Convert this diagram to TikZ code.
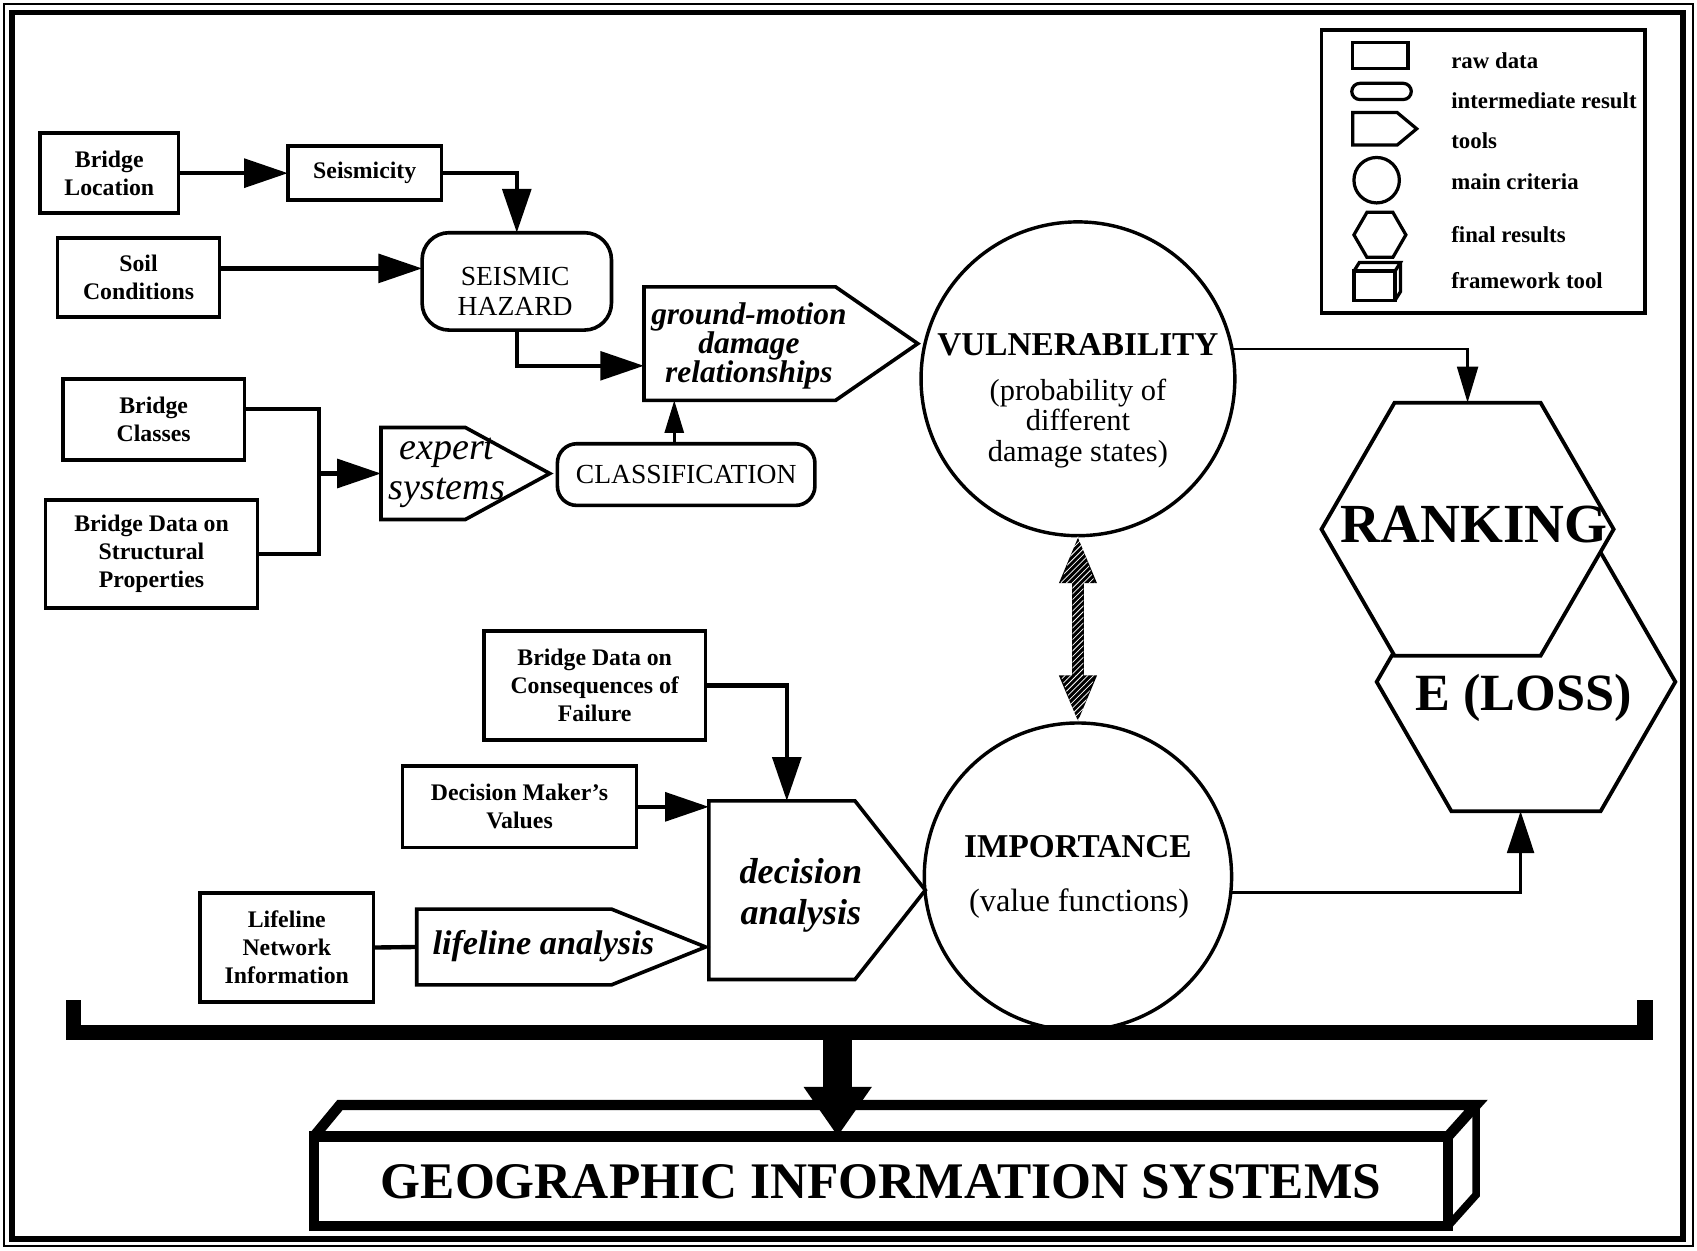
\documentclass[tikz,border=0pt]{standalone}
\usepackage{fontspec}
\setmainfont{Liberation Serif}
\usetikzlibrary{arrows.meta,shapes.geometric,calc,patterns}
\newcommand\fs[2]{\fontsize{#1}{#2}\selectfont}
\newcommand\toolshape[3]{\draw[line width=#3] (#1.north west) -- ([xshift=-#2]#1.north east) -- (#1.east) -- ([xshift=-#2]#1.south east) -- (#1.south west) -- cycle;}
\begin{document}
\begin{tikzpicture}[x=0.02cm,y=-0.02cm,line join=miter,
  every node/.style={inner sep=0pt,outer sep=0pt},
  raw/.style={draw,line width=1.9pt,align=center,font=\fs{12.5}{14.7}\bfseries},
  inter/.style={draw,line width=1.9pt,rounded corners=#1,align=center,font=\fs{14.5}{16}},
  tb/.style={inner sep=0pt,outer sep=0pt},
  crit/.style={draw,circle,line width=1.8pt},
  hexa/.style={draw,regular polygon,regular polygon sides=6,line width=2pt},
  std/.style={line width=2.3pt,-{Triangle[length=23pt,width=15pt]}},
  thinarr/.style={line width=1.3pt,-{Triangle[length=17pt,width=10pt]}},
  plain/.style={line width=2.3pt},
  leglab/.style={anchor=west,font=\fs{12}{14}\bfseries}]
\useasboundingbox (0,0) rectangle (1568,1155);
% frame
\draw[line width=1.2pt] (4,4) rectangle (1564,1151);
\draw[line width=3pt] (11,11.5) rectangle (1555,1145);

% legend
\node[draw,line width=2pt,minimum width=5.98cm,minimum height=5.22cm] (leg) at (1370.5,158.5) {};
\node[draw,line width=1.7pt,minimum width=1.02cm,minimum height=0.48cm] (lraw) at (1275.5,51) {};
\node[draw,line width=1.7pt,rounded corners=0.15cm,minimum width=1.1cm,minimum height=0.3cm] (lint) at (1276.5,84.5) {};
\node[tb,minimum width=1.18cm,minimum height=0.6cm] (ltool) at (1279.5,119) {};
\toolshape{ltool}{0.36cm}{1.7pt}
\node[draw,circle,line width=1.7pt,minimum size=0.84cm] (lcirc) at (1272,166.5) {};
\node[draw,regular polygon,regular polygon sides=6,line width=1.7pt,minimum size=0.96cm] (lhex) at (1275,217) {};
\node[draw,line width=1.7pt,minimum width=0.76cm,minimum height=0.54cm] (lfw) at (1270,264) {};
\draw[line width=1.7pt] (lfw.north west) -- ++(5,-8) -- ($(lfw.north east)+(5,-8)$) -- (lfw.north east);
\draw[line width=1.7pt] ($(lfw.north east)+(5,-8)$) -- ($(lfw.south east)+(5,-8)$) -- (lfw.south east);
\node[leglab] (t1) at (1341,56) {raw data};
\node[leglab] (t2) at (1341,93) {intermediate result};
\node[leglab] (t3) at (1341,130) {tools};
\node[leglab] (t4) at (1341,168) {main criteria};
\node[leglab] (t5) at (1341,217) {final results};
\node[leglab] (t6) at (1341,259) {framework tool};

% raw data boxes
\node[raw,minimum width=2.56cm,minimum height=1.48cm] (bl) at (101,160) {Bridge\\Location};
\node[raw,minimum width=2.84cm,minimum height=1.0cm] (seis) at (337,160) {Seismicity};
\node[raw,minimum width=3.0cm,minimum height=1.46cm] (soil) at (128,256.5) {Soil\\Conditions};
\node[raw,minimum width=3.36cm,minimum height=1.5cm] (bc) at (142,387.5) {Bridge\\Classes};
\node[raw,minimum width=3.92cm,minimum height=2.0cm] (bdsp) at (140,512) {Bridge Data on\\Structural\\Properties};
\node[raw,minimum width=4.1cm,minimum height=2.02cm] (bdcf) at (549.5,633.5) {Bridge Data on\\Consequences of\\Failure};
\node[raw,minimum width=4.32cm,minimum height=1.5cm] (dmv) at (480,745.5) {Decision Maker’s\\Values};
\node[raw,minimum width=3.2cm,minimum height=2.02cm] (lni) at (265,875.5) {Lifeline\\Network\\Information};

% intermediate results
\node[inter=0.5cm,minimum width=3.5cm,minimum height=1.8cm] (haz) at (477.5,260) {};
\node[font=\fs{14.5}{16},align=center] (hazT) at (476,269) {SEISMIC\\HAZARD};
\node[inter=0.36cm,minimum width=4.76cm,minimum height=1.14cm] (cls) at (634,438.5) {CLASSIFICATION};

% tools
\node[tb,minimum width=5.06cm,minimum height=2.1cm] (gm) at (721.5,317.5) {};
\toolshape{gm}{1.52cm}{1.9pt}
\node[font={\fs{16.5}{15.2}\bfseries\itshape\lineskiplimit=-20pt},align=center] (gmT) at (692,320) {ground-motion\\damage\\relationships};
\node[tb,minimum width=3.12cm,minimum height=1.7cm] (exp) at (430,437.5) {};
\toolshape{exp}{1.56cm}{1.9pt}
\node[font=\fs{20}{21.5}\itshape,align=center] (expT) at (413,437) {expert\\systems};
\node[tb,minimum width=4.0cm,minimum height=3.3cm] (dec) at (755,822.5) {};
\toolshape{dec}{1.3cm}{1.9pt}
\node[font=\fs{19}{21.5}\bfseries\itshape,align=center] (decT) at (740,827) {decision\\analysis};
\node[tb,minimum width=5.34cm,minimum height=1.4cm] (lla) at (518.5,875) {};
\toolshape{lla}{1.74cm}{1.9pt}
\node[font=\fs{18}{20}\bfseries\itshape] (llaT) at (502,874) {lifeline analysis};

% main criteria
\node[crit,minimum size=5.8cm] (vul) at (996,350) {};
\node[font=\fs{17.5}{20}\bfseries] (vulT) at (996,319) {VULNERABILITY};
\node[font=\fs{16}{16},align=center] (vulS) at (996,391) {(probability of\\different\\damage states)};
\node[crit,minimum size=5.68cm] (imp) at (996,810) {};
\node[font=\fs{17.5}{20}\bfseries] (impT) at (996,782) {IMPORTANCE};
\node[font=\fs{17}{20}] (impS) at (997,835) {(value functions)};

% final results
\node[hexa,minimum size=5.52cm] (eloss) at (1410,630) {};
\node[hexa,fill=white,minimum size=5.4cm] (rank) at (1356,489) {};
\node[font=\fs{29}{30}\bfseries] (rankT) at (1362,485) {RANKING};
\node[font=\fs{27.5}{30}\bfseries] (elossT) at (1408,645) {E (LOSS)};

% connectors
\draw[std] (bl.east) -- (seis.west);
\draw[std] (seis.east) -| (haz.north);
\coordinate (s1) at ([yshift=0.17cm]soil.east);
\draw[std] (s1) -- (s1 -| haz.west);
\draw[std] (haz.south) |- ([yshift=-0.41cm]gm.west);
\coordinate (j) at (295,437.5);
\draw[plain] ([yshift=0.19cm]bc.east) -| (j) |- (bdsp.east);
\draw[std] (j) -- (exp.west);
\coordinate (c1) at ([xshift=-0.22cm]cls.north);
\draw[thinarr] (c1) -- (c1 |- gm.south);
\draw[line width=1.3pt,-{Triangle[length=19pt,width=11pt]}] (vul.11) -| (rank.north);
\draw[line width=1.8pt,-{Triangle[length=22pt,width=14pt]}] (imp.354) -| ([xshift=-0.1cm]eloss.south);
\coordinate (c2) at ([xshift=-0.56cm]dec.north);
\draw[std] (bdcf.east) -| (c2);
\draw[std] (dmv.east) -- (dmv.east -| dec.west);
\draw[plain] (lni.east) -- (lla.west);

% double arrow
\draw[line width=6pt,{Triangle[length=25pt,width=18pt]}-{Triangle[length=25pt,width=18pt]}] (vul.south) -- (imp.north);
\fill[pattern=north east lines,pattern color=white] ($(vul.south)+(-16,44)$) -- (vul.south) -- ($(vul.south)+(16,44)$) -- cycle;
\fill[pattern=north east lines,pattern color=white] ($(imp.north)+(-16,-44)$) -- (imp.north) -- ($(imp.north)+(16,-44)$) -- cycle;
\fill[pattern=north east lines,pattern color=white] ($(vul.south)+(-5,44)$) rectangle ($(imp.north)+(5,-44)$);

% GIS framework
\node[draw,line width=5.5pt,minimum width=20.96cm,minimum height=1.66cm,font=\fs{27}{30}\bfseries] (gis) at (814,1091.5) {GEOGRAPHIC INFORMATION SYSTEMS};
\draw[line width=5.5pt] (gis.north west) -- ++(24,-29) -- ($(gis.north east)+(26,-29)$) -- (gis.north east);
\draw[line width=4pt] ($(gis.north east)+(26,-29)$) -- ($(gis.south east)+(26,-29)$) -- (gis.south east);

% bracket
\draw[line width=8pt] (68,924) -- (68,954) -- (1520,954) -- (1520,924);
\coordinate (brk) at (774,954);
\draw[line width=15pt,-{Triangle[length=26pt,width=34pt]}] (brk) -- (brk |- gis.north);
\end{tikzpicture}
\end{document}
